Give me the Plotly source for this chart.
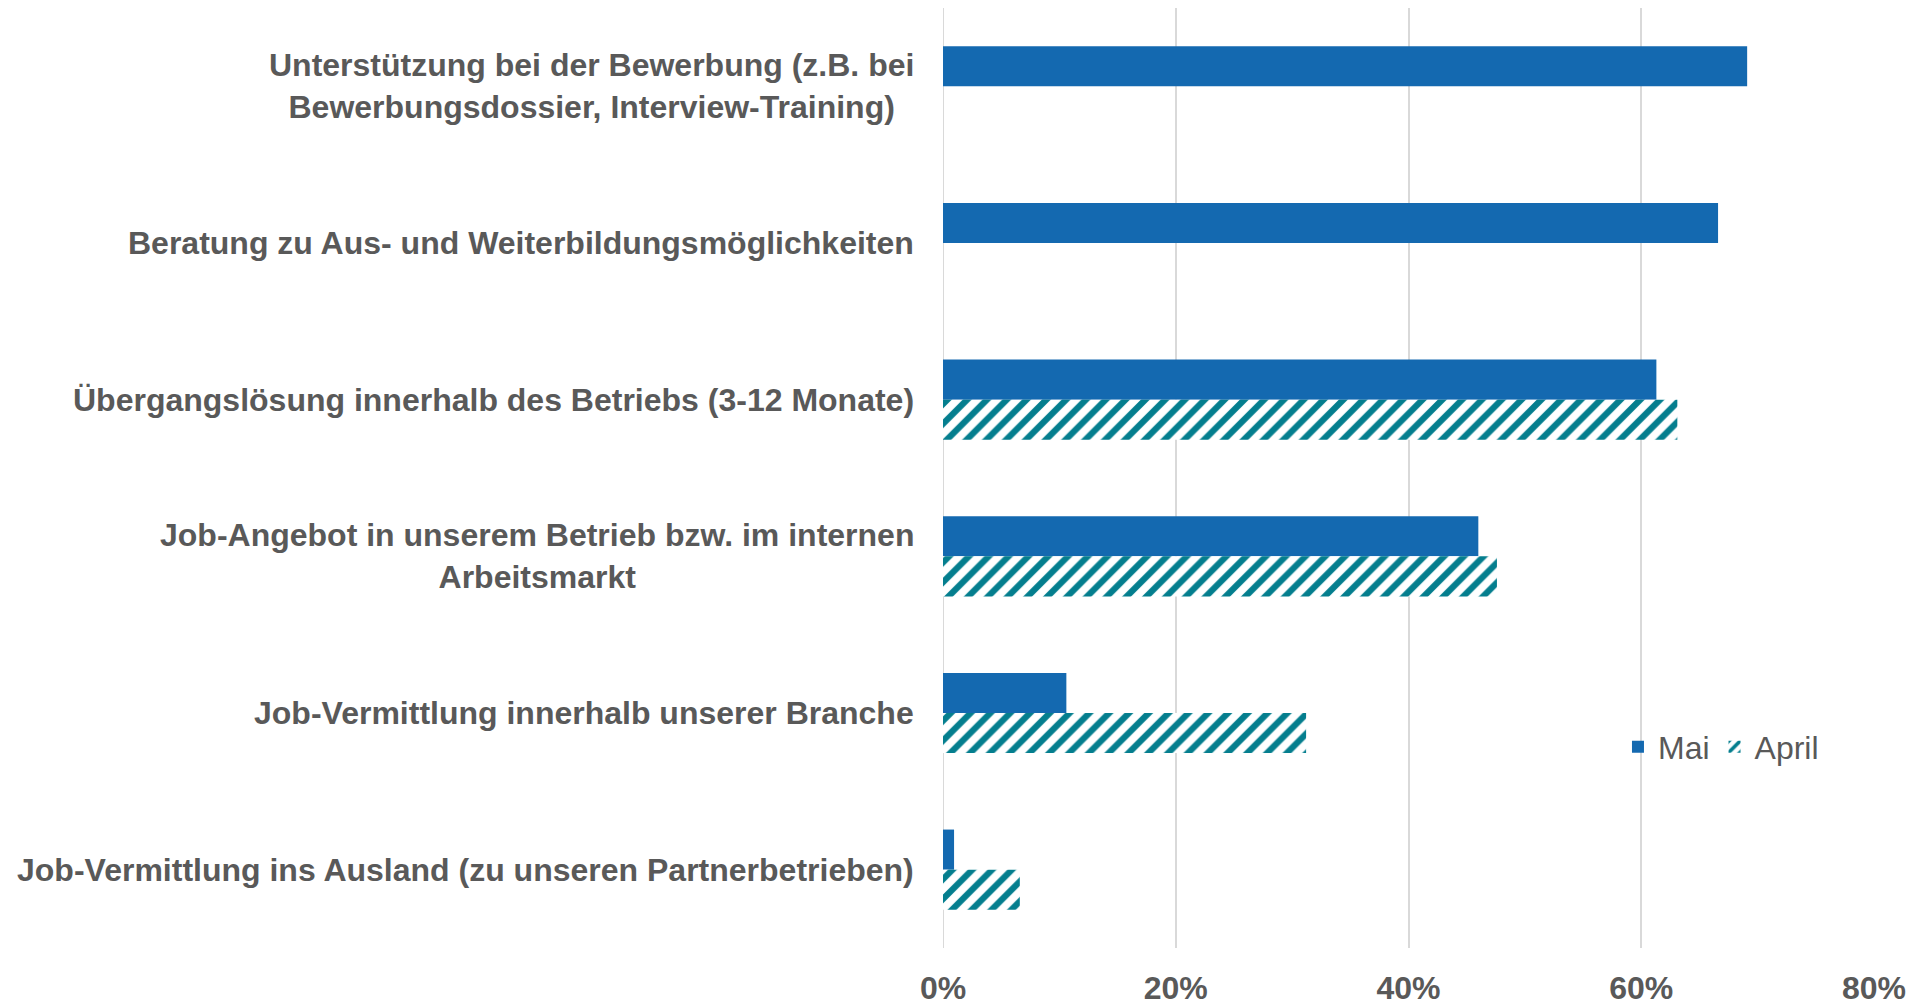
import plotly.graph_objects as go

categories = [
    "Unterstützung bei der Bewerbung (z.B. bei<br>Bewerbungsdossier, Interview-Training)",
    "Beratung zu Aus- und Weiterbildungsmöglichkeiten",
    "Übergangslösung innerhalb des Betriebs (3-12 Monate)",
    "Job-Angebot in unserem Betrieb bzw. im internen<br>Arbeitsmarkt",
    "Job-Vermittlung innerhalb unserer Branche",
    "Job-Vermittlung ins Ausland (zu unseren Partnerbetrieben)",
]
mai = [0.691, 0.666, 0.613, 0.460, 0.106, 0.0095]
april = [None, None, 0.631, 0.476, 0.312, 0.066]

tick_vals = [0, 0.2, 0.4, 0.6, 0.8]
tick_text = ["0%", "20%", "40%", "60%", "80%"]

BLUE = "#1469B0"
TEAL = "#047E8E"
GRAY = "#595959"
FONT = "Liberation Sans, Arial, sans-serif"

fig = go.Figure()
fig.add_trace(go.Bar(
    name="Mai", y=categories, x=mai, orientation="h",
    marker=dict(color=BLUE, line=dict(width=0)),
))
fig.add_trace(go.Bar(
    name="April", y=categories, x=april, orientation="h",
    marker=dict(color="white", line=dict(width=0),
                pattern=dict(shape="/", fgcolor=TEAL, bgcolor="white", fgopacity=1,
                             size=14, solidity=0.45, fillmode="replace")),
))

for c in categories:
    fig.add_annotation(
        x=0, xref="paper", y=c, yref="y", text=c, showarrow=False,
        xanchor="right", yanchor="middle", align="center", xshift=-27,
        font=dict(family=FONT, size=32, color=GRAY, weight="bold"),
    )

fig.update_layout(
    width=1910, height=998,
    margin=dict(l=935, r=44, t=0, b=55),
    paper_bgcolor="white", plot_bgcolor="white",
    barmode="group", bargap=0.488, bargroupgap=0,
    showlegend=True,
    legend=dict(orientation="h", x=0.725, xanchor="left", y=0.214, yanchor="middle",
                font=dict(family=FONT, size=32, color=GRAY),
                bgcolor="rgba(0,0,0,0)", traceorder="normal"),
    xaxis=dict(range=[0, 0.8], tickvals=tick_vals, ticktext=tick_text,
               showgrid=True, gridcolor="#D9D9D9", gridwidth=2,
               zeroline=False, showline=False, ticks="",
               ticklabelstandoff=18,
               tickfont=dict(family=FONT, size=32, color=GRAY, weight="bold")),
    yaxis=dict(autorange="reversed", showticklabels=False, showgrid=False,
               zeroline=False, showline=False, ticks=""),
)
fig.add_vline(x=0, line=dict(color="#D9D9D9", width=2), layer="below")

fig.write_html("out.html")
